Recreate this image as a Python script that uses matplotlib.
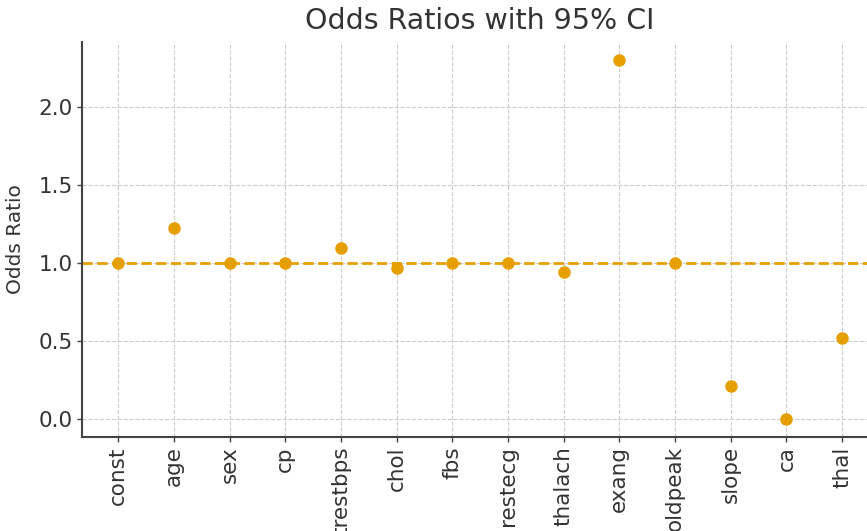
import matplotlib
matplotlib.use("Agg")
import matplotlib.pyplot as plt

# Logistic regression odds ratios per feature
features = ["const", "age", "sex", "cp", "trestbps", "chol", "fbs",
            "restecg", "thalach", "exang", "oldpeak", "slope", "ca", "thal"]
odds_ratios = [1.0, 1.226, 1.0, 1.0, 1.098, 0.97, 1.0,
               1.0, 0.946, 2.305, 1.0, 0.213, 0.0, 0.523]
y_ticks = [0.0, 0.5, 1.0, 1.5, 2.0]

ORANGE = "#E69F00"
TEXT = "#333333"

plt.rcParams["font.family"] = "DejaVu Sans"

fig = plt.figure(figsize=(8.67, 5.31), dpi=100)
ax = fig.add_axes([82 / 867, (531 - 437.3) / 531,
                   (878.3 - 82) / 867, (437.3 - 41.7) / 531])

x = list(range(len(features)))
ax.plot(x, odds_ratios, "o", color=ORANGE, markersize=8, zorder=3)
ax.axhline(1.0, color=ORANGE, linestyle="--", linewidth=2, zorder=2)

ax.set_xticks(x)
ax.set_xticklabels(features, rotation=90)
ax.set_yticks(y_ticks)
ax.set_yticklabels([f"{v:.1f}" for v in y_ticks])
ax.set_xlim(-0.65, 13.65)
ax.set_ylim(-0.1155, 2.4205)

ax.grid(True, linestyle="--", color="#cccccc", linewidth=0.8)
ax.set_axisbelow(True)
for side in ("top", "right"):
    ax.spines[side].set_visible(False)
for side in ("left", "bottom"):
    ax.spines[side].set_color("#444444")
    ax.spines[side].set_linewidth(1.5)

ax.tick_params(axis="both", labelsize=15.5, colors="#444444", labelcolor=TEXT,
               length=3.5, width=1, pad=3)
ax.set_ylabel("Odds Ratio", fontsize=14.5, color=TEXT, labelpad=10)
ax.set_title("Odds Ratios with 95% CI", fontsize=20.5, color=TEXT, pad=9)

fig.savefig("out.png", dpi=100)
